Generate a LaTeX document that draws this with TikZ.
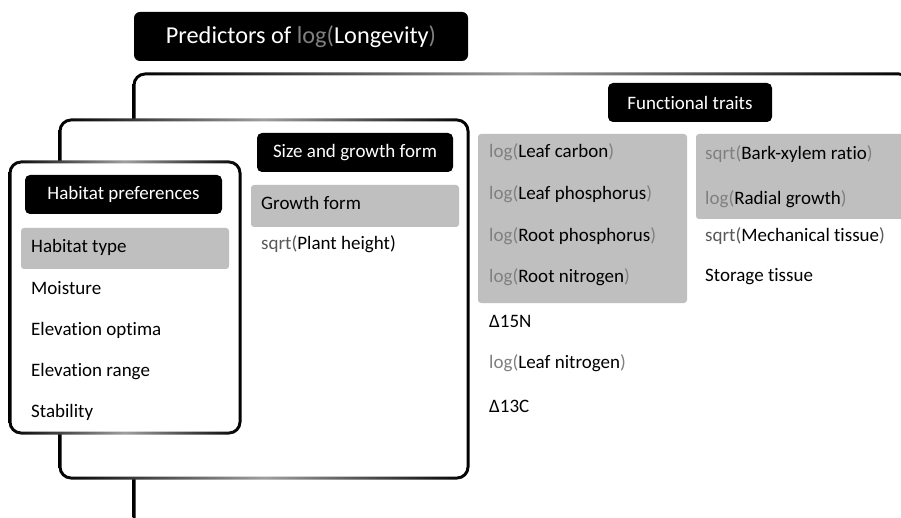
\documentclass[tikz,border=0pt]{standalone}
\usepackage{fontspec}
\setmainfont{Carlito}[Ligatures={NoCommon}]
\definecolor{pfx}{RGB}{128,128,128}
\definecolor{dpfx}{RGB}{89,89,89}
\definecolor{cellgray}{RGB}{191,191,191}
\newcommand{\fsz}{\fontsize{19}{22}\selectfont}
\newcommand{\gframe}[4]{%
  \fill[white, rounded corners=11pt] (#1,#2) rectangle (#3,#4);
  \shade[even odd rule, left color=black, right color=black, middle color=black!38]
    [rounded corners=12.5pt] (#1-1.5,#2-1.5) rectangle (#3+1.5,#4+1.5)
    [rounded corners=9.5pt] (#1+1.5,#2+1.5) rectangle (#3-1.5,#4-1.5);}
\tikzset{
  item/.style={anchor=base west, inner sep=0pt, font=\fsz, text=black},
  lab/.style={fill=black, text=white, rounded corners=5pt, font=\fsz, inner sep=0pt, minimum height=39pt},
  cell/.style={fill=cellgray, rounded corners=3pt, inner sep=0pt, draw=none}
}
\begin{document}
\begin{tikzpicture}[x=1pt,y=-1pt]
\useasboundingbox (0,0) rectangle (901,518);
\begin{scope}
\clip (0,0) rectangle (901,518);
\gframe{134}{74}{910}{600}
\gframe{60}{120}{468}{478}
\gframe{10}{162}{240}{433}
\end{scope}

% title
\node[lab, minimum width=334pt, minimum height=49pt, font=\fontsize{24.3}{28}\selectfont, rounded corners=6pt] (title) at (301,36.5)
  {Predictors of \textcolor{pfx}{log(}Longevity\textcolor{pfx}{)}};

% section labels
\node[lab, minimum width=164pt] (func) at (690,102.5) {Functional traits};
\node[lab, minimum width=196pt] (size) at (355,152.5) {Size and growth form};
\node[lab, minimum width=197pt] (hab) at (123.5,194.5) {Habitat preferences};

% gray cells
\node[cell, minimum width=208pt, minimum height=41pt] (c1) at (125,248.5) {};
\node[cell, minimum width=208pt, minimum height=42pt] (c2) at (355,206) {};
\node[cell, minimum width=209pt, minimum height=169pt] (c3) at (582.5,218.5) {};
\begin{scope}
\clip (0,0) rectangle (901,518);
\node[cell, minimum width=224pt, minimum height=85pt] (c4) at (808,176.5) {};
\end{scope}

% habitat items
\node[item] (h1) at (31,253) {Habitat type};
\node[item] (h2) at (31,294.5) {Moisture};
\node[item] (h3) at (31,335) {Elevation optima};
\node[item] (h4) at (31,376) {Elevation range};
\node[item] (h5) at (31,417) {Stability};

% size items
\node[item] (s1) at (261,210) {Growth form};
\node[item] (s2) at (261,250) {\textcolor{dpfx}{sqrt(}Plant height)};

% traits left
\node[item] (t1) at (489,158) {\textcolor{pfx}{log(}Leaf carbon\textcolor{pfx}{)}};
\node[item] (t2) at (489,200) {\textcolor{pfx}{log(}Leaf phosphorus\textcolor{pfx}{)}};
\node[item] (t3) at (489,242) {\textcolor{pfx}{log(}Root phosphorus\textcolor{pfx}{)}};
\node[item] (t4) at (489,283) {\textcolor{pfx}{log(}Root nitrogen\textcolor{pfx}{)}};
\node[item] (t5) at (489,327) {Δ15N};
\node[item] (t6) at (489,368) {\textcolor{pfx}{log(}Leaf nitrogen\textcolor{pfx}{)}};
\node[item] (t7) at (489,412) {Δ13C};

% traits right
\node[item] (r1) at (705,160) {\textcolor{pfx}{sqrt(}Bark-xylem ratio\textcolor{pfx}{)}};
\node[item] (r2) at (705,205) {\textcolor{pfx}{log(}Radial growth\textcolor{pfx}{)}};
\node[item] (r3) at (705,242) {\textcolor{dpfx}{sqrt(}Mechanical tissue\textcolor{dpfx}{)}};
\node[item] (r4) at (705,282) {Storage tissue};
\end{tikzpicture}
\end{document}
